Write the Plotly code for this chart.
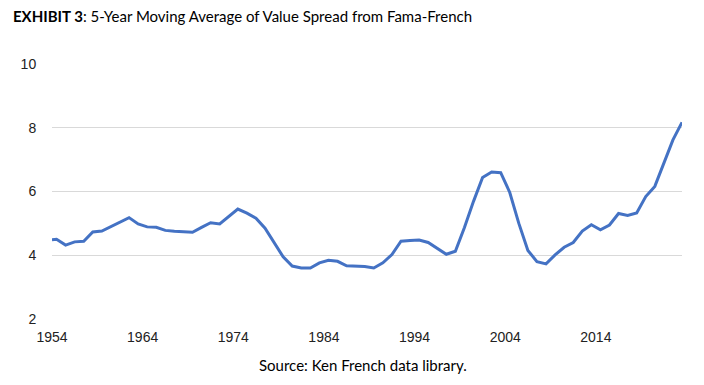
import plotly.graph_objects as go

# Data (5-year moving average of value spread), mid-year observations
years = [1954.0] + [y + 0.5 for y in range(1954, 2024)]
value_spread = [4.49,
    4.50, 4.32, 4.42, 4.44, 4.73, 4.76, 4.90, 5.04, 5.18, 4.98,
    4.89, 4.875, 4.78, 4.75, 4.74, 4.72, 4.875, 5.02, 4.98, 5.22,
    5.45, 5.32, 5.16, 4.85, 4.38, 3.95, 3.66, 3.60, 3.60, 3.76,
    3.84, 3.81, 3.67, 3.66, 3.65, 3.60, 3.76, 4.02, 4.44, 4.46,
    4.48, 4.40, 4.22, 4.03, 4.125, 4.87, 5.69, 6.44, 6.61, 6.59,
    5.97, 5.00, 4.15, 3.80, 3.73, 4.01, 4.25, 4.40, 4.76, 4.96,
    4.80, 4.95, 5.31, 5.25, 5.33, 5.84, 6.16, 6.89, 7.62, 8.17]
x_tick_vals = [1954, 1964, 1974, 1984, 1994, 2004, 2014]
x_tick_text = ["1954", "1964", "1974", "1984", "1994", "2004", "2014"]
y_tick_vals = [2, 4, 6, 8, 10]

title_bold = "EXHIBIT 3"
title_rest = ": 5-Year Moving Average of Value Spread from Fama-French"
source_text = "Source: Ken French data library."

# The page body has an 8px default margin, so the figure is sized to fit.
W, H = 696, 377
L, R, T, B = 44, 22, 56, 66
plot_w, plot_h = W - L - R, H - T - B

fig = go.Figure()
fig.add_trace(go.Scatter(
    x=years, y=value_spread, mode="lines",
    line=dict(color="#4472C4", width=3),
    hoverinfo="x+y", showlegend=False,
))

fig.update_layout(
    width=W, height=H,
    margin=dict(l=L, r=R, t=T, b=B, pad=0),
    paper_bgcolor="white", plot_bgcolor="white",
    font=dict(family="Liberation Sans, Arial, sans-serif", size=14, color="#222222"),
    title=dict(
        text=f"<b>{title_bold}</b>{title_rest}",
        x=5 / W, xanchor="left", xref="container",
        y=1 - 9 / H, yanchor="middle", yref="container",
        font=dict(family="Lato, Carlito, sans-serif", size=15, color="#000000"),
    ),
    xaxis=dict(
        range=[1954, 2023.5], tickmode="array",
        tickvals=x_tick_vals, ticktext=x_tick_text,
        showgrid=False, zeroline=False, showline=False,
        ticks="outside", ticklen=5, tickcolor="rgba(0,0,0,0)",
    ),
    yaxis=dict(
        range=[2, 10], tickmode="array", tickvals=y_tick_vals,
        showgrid=True, gridcolor="#d9d9d9", gridwidth=1,
        zeroline=False, showline=False,
        ticks="outside", ticklen=12, tickcolor="rgba(0,0,0,0)",
    ),
    annotations=[dict(
        text=source_text, xref="paper", yref="paper",
        x=(355 - L) / plot_w, y=(H - B - 357) / plot_h,
        xanchor="center", yanchor="middle", showarrow=False,
        font=dict(family="Lato, Carlito, sans-serif", size=15, color="#000000"),
    )],
)

fig.write_html("out.html")
